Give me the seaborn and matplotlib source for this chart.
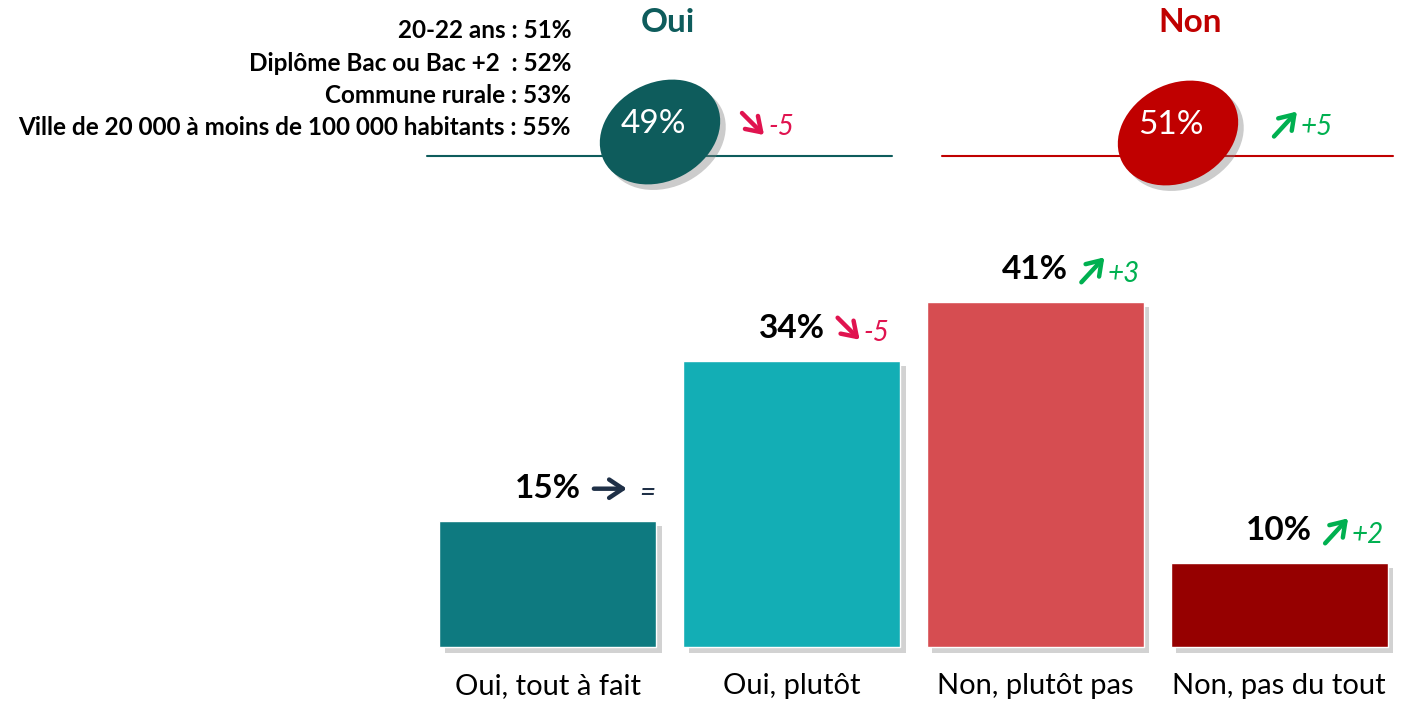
import matplotlib
matplotlib.use("Agg")
import matplotlib.pyplot as plt
import matplotlib.patheffects as pe
import matplotlib.transforms as mtransforms
from matplotlib.patches import Ellipse
from matplotlib import font_manager
import seaborn as sns

# Données
categories = ["Oui, tout à fait", "Oui, plutôt", "Non, plutôt pas", "Non, pas du tout"]
values = [15, 34, 41, 10]
changes = ["=", "-5", "+3", "+2"]
bar_colors = ["#0e7a80", "#13aeb5", "#d64d51", "#960000"]

groups = ["Oui", "Non"]
group_totals = [49, 51]
group_changes = ["-5", "+5"]
group_colors = ["#0e5c5c", "#c00000"]

subgroups = ["20-22 ans", "Diplôme Bac ou Bac +2 ", "Commune rurale",
             "Ville de 20 000 à moins de 100 000 habitants"]
subgroup_values = [51, 52, 53, 55]

sns.set_theme(style="white")
names = {f.name for f in font_manager.fontManager.ttflist}
main_font = "Liberation Sans Narrow" if "Liberation Sans Narrow" in names else "Lato"
plt.rcParams["font.family"] = [main_font, "DejaVu Sans"]


def arrow_style(change):
    # (dx, dy) de la flèche en pixels (y vers le haut) et couleur
    if change.startswith("+"):
        return (23, 25), "#00b050"
    if change.startswith("-"):
        return (22, -22), "#e0134f"
    return (33, 0), "#1f3047"


ARROW = dict(arrowstyle="->,head_length=0.45,head_width=0.3", lw=3.2, mutation_scale=22,
             shrinkA=0, shrinkB=0)

W, H = 1403, 703
fig = plt.figure(figsize=(W / 100, H / 100), dpi=100)

# Axe des barres
ax = fig.add_axes([426 / W, 56 / H, 975 / W, 421 / H])
sns.barplot(x=categories, y=values, hue=categories, palette=bar_colors,
            width=0.89, saturation=1, legend=False, ax=ax)
for bar in ax.patches:
    bar.set_clip_on(False)
    bar.set_path_effects([pe.SimplePatchShadow(offset=(4, -4), shadow_rgbFace="gray", alpha=0.35),
                          pe.Normal()])
ax.set_xlim(-0.5, 3.5)
ax.set_ylim(0, 50)
sns.despine(ax=ax, left=True, bottom=True)
ax.set_yticks([])
ax.set_xlabel("")
ax.set_ylabel("")
ax.tick_params(axis="x", length=0, pad=19, labelsize=21, colors="black")

px = 0.72  # pixels -> points
for i, (v, c) in enumerate(zip(values, changes)):
    ax.annotate(f"{v}%", xy=(i, v), xytext=(33 * px, 32 * px), textcoords="offset points",
                ha="right", va="center", fontsize=24, fontweight="bold", color="black")
    (dx, dy), col = arrow_style(c)
    # flèche d'évolution, décalée à partir du sommet de la barre
    tail_y = 32 - dy / 2
    start = mtransforms.offset_copy(ax.transData, fig=fig, x=46 * px, y=tail_y * px,
                                    units="points")
    end = mtransforms.offset_copy(ax.transData, fig=fig, x=(46 + dx) * px,
                                  y=(tail_y + dy) * px, units="points")
    ax.annotate("", xy=(i, v), xycoords=end, xytext=(i, v), textcoords=start,
                arrowprops=ARROW | dict(color=col), annotation_clip=False)
    off = 91 if c == "=" else 72
    ax.annotate(c, xy=(i, v), xytext=(off * px, 28 * px), textcoords="offset points",
                ha="left", va="center", fontsize=20, style="italic", color=col)

# Partie haute : totaux Oui / Non
top = fig.add_axes([0, 0, 1, 1], facecolor="none")
top.set_xlim(0, W)
top.set_ylim(H, 0)
top.axis("off")

line_spans = [(427, 892), (942, 1393)]
centers = [(660, 132), (1178, 133)]
title_x = [668, 1190]
arrow_x = [742, 1274]
for g, tot, ch, col, (x0, x1), (cx, cy), tx, axx in zip(groups, group_totals, group_changes,
                                                         group_colors, line_spans, centers,
                                                         title_x, arrow_x):
    top.plot([x0, x1], [156, 156], color=col, lw=1.5, zorder=1)
    ell = Ellipse((cx, cy), width=126, height=98, angle=-28, facecolor=col, edgecolor="none",
                  zorder=2)
    ell.set_path_effects([pe.SimplePatchShadow(offset=(4, -4), shadow_rgbFace="gray", alpha=0.4),
                          pe.Normal()])
    top.add_patch(ell)
    top.text(cx - 7, cy - 8, f"{tot}%", ha="center", va="center", fontsize=24, color="white",
             zorder=3)
    top.text(tx, 22, g, ha="center", va="center", fontsize=24, fontweight="bold", color=col)
    (dx, dy), acol = arrow_style(ch)
    y0 = 124 + dy / 2
    top.annotate("", xy=(axx + dx, y0 - dy), xytext=(axx, y0),
                 arrowprops=ARROW | dict(color=acol))
    top.text(axx + dx + 4, 127, ch, ha="left", va="center", fontsize=20, style="italic",
             color=acol)

for k, (s, v) in enumerate(zip(subgroups, subgroup_values)):
    top.text(571, 31 + k * 32.3, f"{s} : {v}%", ha="right", va="center", fontsize=17.5,
             fontweight="bold", color="black")

fig.savefig("out.png", dpi=100)
